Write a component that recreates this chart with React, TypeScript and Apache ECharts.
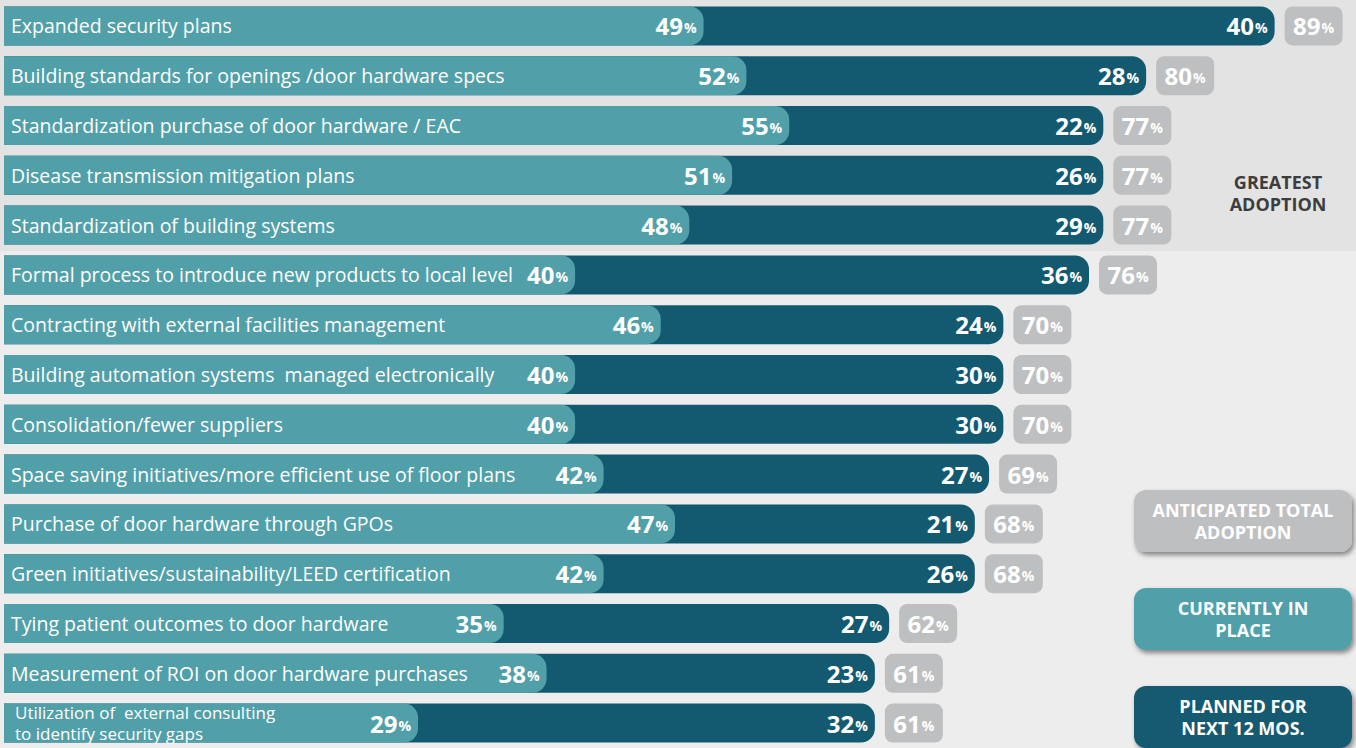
import React, { useEffect, useRef } from "react";
import * as echarts from "echarts";

const categories = [
  "Expanded security plans",
  "Building standards for openings /door hardware specs",
  "Standardization purchase of door hardware / EAC",
  "Disease transmission mitigation plans",
  "Standardization of building systems",
  "Formal process to introduce new products to local level",
  "Contracting with external facilities management",
  "Building automation systems  managed electronically",
  "Consolidation/fewer suppliers",
  "Space saving initiatives/more efficient use of floor plans",
  "Purchase of door hardware through GPOs",
  "Green initiatives/sustainability/LEED certification",
  "Tying patient outcomes to door hardware",
  "Measurement of ROI on door hardware purchases",
  "Utilization of  external consulting\nto identify security gaps",
];
const currentlyInPlace = [49, 52, 55, 51, 48, 40, 46, 40, 40, 42, 47, 42, 35, 38, 29];
const plannedNext12 = [40, 28, 22, 26, 29, 36, 24, 30, 30, 27, 21, 26, 27, 23, 32];
const anticipatedTotal = [89, 80, 77, 77, 77, 76, 70, 70, 70, 69, 68, 68, 62, 61, 61];

const TEAL = "#51a0a9";
const DARK = "#135a71";
const GREY = "#bebfc1";
const FONT = "'Open Sans', 'Noto Sans', sans-serif";

const valueRich = {
  v: { fontFamily: FONT, fontWeight: 700, fontSize: 24, color: "#fff", lineHeight: 28, verticalAlign: "bottom" as const, padding: [0, 0, 2, 0] },
  p: { fontFamily: FONT, fontWeight: 700, fontSize: 14, color: "#fff", lineHeight: 18, verticalAlign: "bottom" as const, padding: [0, 0, 5, 1] },
};

export default function App() {
  const ref = useRef<HTMLDivElement>(null);
  useEffect(() => {
    if (!ref.current) return;
    const chart = echarts.init(ref.current, undefined, { renderer: "svg" });
    const legendBox = (y: number, fill: string, l1: string, l2: string) => ({
      type: "group",
      children: [
        {
          type: "rect",
          shape: { x: 1134, y, width: 218, height: 62, r: 12 },
          style: { fill, shadowBlur: 5, shadowOffsetX: 2, shadowOffsetY: 3, shadowColor: "rgba(0,0,0,0.45)" },
        },
        {
          type: "text",
          style: {
            x: 1243, y: y + 31, text: l1 + "\n" + l2, align: "center", verticalAlign: "middle",
            fill: "#fff", fontFamily: FONT, fontWeight: 700, fontSize: 18, lineHeight: 22,
          },
        },
      ],
    });
    chart.setOption({
      animation: false,
      backgroundColor: "#ededed",
      grid: { left: 4, right: 0, top: 1, height: 753, containLabel: false },
      xAxis: { type: "value", min: 0, max: 94.7, show: false },
      yAxis: {
        type: "category",
        data: categories,
        inverse: true,
        z: 10,
        axisLine: { show: false },
        axisTick: { show: false },
        splitLine: { show: false },
        axisLabel: {
          inside: true, margin: 7, color: "#fff", fontFamily: FONT, fontSize: 19.5,
          formatter: (val: string) => (val.indexOf("\n") >= 0 ? `{w|${val}}` : val),
          rich: {
            w: { fontFamily: FONT, fontSize: 17, lineHeight: 20.5, color: "#fff", padding: [0, 0, 0, 4] },
          },
        },
      },
      graphic: [
        { type: "rect", z: -10, shape: { x: 0, y: 0, width: 1356, height: 251 }, style: { fill: "#e3e3e3" } },
        {
          type: "text",
          style: {
            x: 1278, y: 193, text: "GREATEST\nADOPTION", align: "center", verticalAlign: "middle",
            fill: "#3d3d3d", fontFamily: FONT, fontWeight: 700, fontSize: 18, lineHeight: 22,
          },
        },
        legendBox(490, GREY, "ANTICIPATED TOTAL", "ADOPTION"),
        legendBox(588, TEAL, "CURRENTLY IN", "PLACE"),
        legendBox(686, DARK, "PLANNED FOR", "NEXT 12 MOS."),
      ],
      series: [
        {
          name: "Planned for next 12 mos.",
          type: "bar",
          data: anticipatedTotal,
          barWidth: 39,
          barGap: "-100%",
          itemStyle: { color: DARK, borderRadius: [0, 14, 14, 0] },
          label: {
            show: true, position: "insideRight", distance: 7,
            formatter: (p: any) => `{v|${plannedNext12[p.dataIndex]}}{p|%}`,
            rich: valueRich,
          },
        },
        {
          name: "Currently in place",
          type: "bar",
          data: currentlyInPlace,
          barWidth: 39,
          barGap: "-100%",
          itemStyle: { color: TEAL, borderRadius: [0, 14, 14, 0] },
          label: {
            show: true, position: "insideRight", distance: 7,
            formatter: (p: any) => `{v|${p.value}}{p|%}`,
            rich: valueRich,
          },
        },
        {
          name: "Anticipated total adoption",
          type: "custom",
          z: 5,
          data: anticipatedTotal.map((t, i) => [t, i]),
          renderItem: (params: any, api: any) => {
            const total = api.value(0);
            const idx = api.value(1);
            const pt = api.coord([total, idx]);
            const h = 39;
            return {
              type: "group",
              children: [
                {
                  type: "rect",
                  shape: { x: pt[0] + 10, y: pt[1] - h / 2, width: 58, height: h, r: 8 },
                  style: { fill: GREY },
                },
                {
                  type: "text",
                  style: {
                    x: pt[0] + 39, y: pt[1], align: "center", verticalAlign: "middle",
                    text: `{v|${total}}{p|%}`, rich: valueRich, fill: "#fff",
                  },
                },
              ],
            };
          },
        },
      ],
    });
    return () => chart.dispose();
  }, []);
  return (
    <div
      ref={ref}
      style={{ position: "fixed", left: 0, top: 0, width: 1356, height: 748 }}
    />
  );
}
